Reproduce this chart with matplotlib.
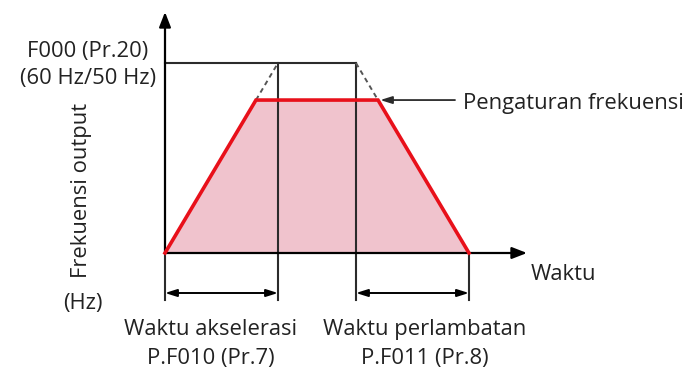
import matplotlib
matplotlib.use("Agg")
import matplotlib.pyplot as plt

# ---- data (time units, frequency Hz) ----
f_max = 60.0          # F000 (Pr.20)
f_set = 48.3          # frequency setting
t_acc = 10.0          # acceleration time to f_max (P.F010)
t_dec = 10.0          # deceleration time from f_max (P.F011)
t_dec_start = 16.9    # start of deceleration reference
profile_t = [0.0, t_acc * f_set / f_max, t_dec_start + t_dec * (f_max - f_set) / f_max, t_dec_start + t_dec]
profile_f = [0.0, f_set, f_set, 0.0]

labels = {
    "fmax": "F000 (Pr.20)\n(60 Hz/50 Hz)",
    "ylabel": "Frekuensi output",
    "unit": "(Hz)",
    "xlabel": "Waktu",
    "acc": "Waktu akselerasi\nP.F010 (Pr.7)",
    "dec": "Waktu perlambatan\nP.F011 (Pr.8)",
    "set": "Pengaturan frekuensi",
}

plt.rcParams['font.family'] = ['Open Sans', 'DejaVu Sans']
W, H = 694, 378
fig = plt.figure(figsize=(W / 100, H / 100), dpi=100)
ax = fig.add_axes([0, 0, 1, 1])
# pixel mapping: origin at (165, 253), 11.3 px per time unit, 190/60 px per Hz
sx = 11.3
sy = 190 / 60
ax.set_xlim(-165 / sx, (W - 165) / sx)
ax.set_ylim(-(H - 253) / sy, 253 / sy)
ax.axis("off")

dark = "#2b2b2b"
red = "#e8101a"
pink = "#f0c3cd"
t_end = t_dec_start + t_dec
y_dim = -40 / sy   # dimension line level
y_bot = -47 / sy   # bottom of extension lines

ax.fill(profile_t, profile_f, color=pink, zorder=1, lw=0)
ax.plot(profile_t, profile_f, color=red, lw=2.6, zorder=4, solid_joinstyle="miter")

ax.plot([profile_t[1], t_acc], [f_set, f_max], color="#555555", lw=1.4, ls=(0, (2.5, 2)), zorder=3)
ax.plot([t_dec_start, profile_t[2]], [f_max, f_set], color="#555555", lw=1.4, ls=(0, (2.5, 2)), zorder=3)

ax.plot([0, t_dec_start], [f_max, f_max], color=dark, lw=1.5, zorder=2)
for xv in [t_acc, t_dec_start]:
    ax.plot([xv, xv], [f_max, y_bot], color=dark, lw=1.5, zorder=2)
ax.plot([t_end, t_end], [0, y_bot], color=dark, lw=1.5, zorder=2)
ax.plot([0, 0], [0, y_bot], color=dark, lw=1.5, zorder=2)

ax.annotate("", xy=(0, 241 / sy), xytext=(0, 0),
            arrowprops=dict(arrowstyle="-|>,head_length=0.9,head_width=0.35", color="black", lw=1.6, shrinkA=0, shrinkB=0))
ax.annotate("", xy=((527 - 165) / sx, 0), xytext=(0, 0),
            arrowprops=dict(arrowstyle="-|>,head_length=0.9,head_width=0.35", color="black", lw=1.6, shrinkA=0, shrinkB=0))

for a, b in [(0, t_acc), (t_dec_start, t_end)]:
    ax.annotate("", xy=(b, y_dim), xytext=(a, y_dim),
                arrowprops=dict(arrowstyle="<|-|>,head_length=0.7,head_width=0.22", color="black", lw=1.4, shrinkA=0, shrinkB=0))

ax.annotate("", xy=(profile_t[2] + 0.2, f_set), xytext=((455 - 165) / sx, f_set),
            arrowprops=dict(arrowstyle="-|>,head_length=0.7,head_width=0.22", color=dark, lw=1.3, shrinkA=0, shrinkB=0))

fs = 15.8
tc = "#222222"
ax.text(-77 / sx, (253 - 65) / sy, labels["fmax"], ha="center", va="center", fontsize=fs, color=tc, linespacing=1.4)
ax.text(-83 / sx, (253 - 190) / sy, labels["ylabel"], ha="center", va="center", rotation=90, fontsize=fs, color=tc)
ax.text(-82 / sx, -50 / sy, labels["unit"], ha="center", va="center", fontsize=fs, color=tc)
ax.text((531 - 165) / sx, -22 / sy, labels["xlabel"], ha="left", va="center", fontsize=fs, color=tc)
ax.text((211 - 165) / sx, -91 / sy, labels["acc"], ha="center", va="center", fontsize=fs, color=tc, linespacing=1.45)
ax.text((425 - 165) / sx, -91 / sy, labels["dec"], ha="center", va="center", fontsize=fs, color=tc, linespacing=1.45)
ax.text((463 - 165) / sx, f_set - 1, labels["set"], ha="left", va="center", fontsize=fs, color=tc)

fig.savefig("out.png", dpi=100, facecolor="white")
